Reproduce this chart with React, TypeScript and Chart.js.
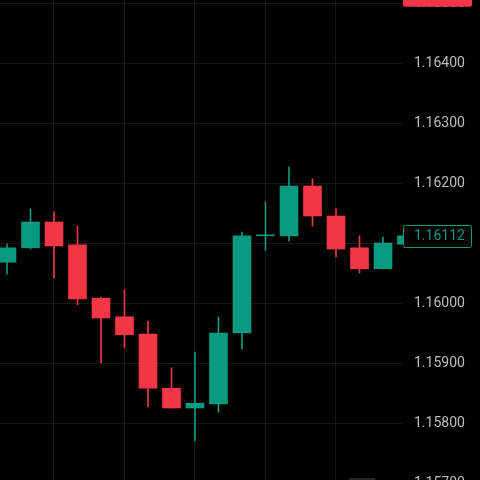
import React, { useEffect, useRef } from 'react';
import { Chart, registerables } from 'chart.js';

Chart.register(...registerables);

// OHLC values, one entry per candle (left to right)
const opens = [1.16068, 1.16092, 1.16135, 1.16097, 1.16008, 1.15977, 1.15948, 1.15858, 1.15825, 1.15832, 1.1595, 1.16112, 1.16112, 1.16195, 1.16145, 1.16092, 1.16057, 1.16098];
const highs = [1.16098, 1.16157, 1.16152, 1.16128, 1.1601, 1.16022, 1.1597, 1.15892, 1.15918, 1.15977, 1.16118, 1.16168, 1.16227, 1.16207, 1.16157, 1.16112, 1.1611, 1.16115];
const lows = [1.16048, 1.1609, 1.16042, 1.15997, 1.159, 1.15925, 1.15827, 1.15825, 1.1577, 1.15818, 1.15923, 1.16088, 1.16103, 1.16128, 1.16077, 1.1605, 1.16057, 1.16095];
const closes = [1.16092, 1.16135, 1.16095, 1.16007, 1.15975, 1.15947, 1.15858, 1.15825, 1.15833, 1.1595, 1.16112, 1.16112, 1.16195, 1.16145, 1.1609, 1.16057, 1.161, 1.16112];

const yTickValues = [1.157, 1.158, 1.159, 1.16, 1.161, 1.162, 1.163, 1.164, 1.165];
const xGridValues = [2, 5, 8, 11, 14];
const lastPrice = 1.16112;
const topMarkerPrice = 1.16512;

const GREEN = '#089981';
const RED = '#f23645';
const GRID = '#161616';

export default function App() {
  const ref = useRef<HTMLCanvasElement | null>(null);

  useEffect(() => {
    const canvas = ref.current;
    if (!canvas) return;
    const colors = opens.map((o, i) => (closes[i] >= o ? GREEN : RED));
    const xs = opens.map((_, i) => i);

    const overlay = {
      id: 'overlay',
      afterDraw(chart: any) {
        const { ctx } = chart;
        const y = chart.scales.y;
        const left = chart.chartArea.right;
        ctx.save();
        // last price label
        const py = y.getPixelForValue(lastPrice);
        ctx.fillStyle = '#000';
        ctx.beginPath();
        ctx.roundRect(left + 0.5, Math.round(py) - 10.5, 68, 22, 2);
        ctx.fill();
        ctx.strokeStyle = GREEN;
        ctx.lineWidth = 1;
        ctx.stroke();
        ctx.fillStyle = GREEN;
        ctx.font = '14px Roboto';
        ctx.textBaseline = 'middle';
        ctx.textAlign = 'left';
        ctx.fillText(lastPrice.toFixed(5), left + 11, py + 1);
        // top red marker (mostly out of view)
        const ty = y.getPixelForValue(topMarkerPrice);
        ctx.fillStyle = RED;
        ctx.beginPath();
        ctx.roundRect(left, ty - 11, 69, 22, 2);
        ctx.fill();
        ctx.fillStyle = '#fff';
        ctx.fillText(topMarkerPrice.toFixed(5), left + 11, ty + 1);
        // small grey button at bottom
        ctx.fillStyle = '#262626';
        ctx.beginPath();
        ctx.roundRect(348, 498, 28, 14, 4);
        ctx.fill();
        ctx.restore();
      },
    };

    const chart = new Chart(canvas, {
      type: 'bar',
      data: {
        datasets: [
          {
            label: 'wick',
            data: xs.map((i) => ({ x: i, y: [lows[i], highs[i]] })) as any,
            backgroundColor: colors,
            borderWidth: 0,
            barThickness: 1,
            grouped: false,
            clip: 0 as any,
            order: 2,
          },
          {
            label: 'body',
            data: xs.map((i) => ({ x: i, y: [opens[i], closes[i]] })) as any,
            backgroundColor: colors,
            borderWidth: 0,
            barThickness: 18,
            minBarLength: 1,
            grouped: false,
            clip: 0 as any,
            order: 1,
          },
        ],
      },
      options: {
        responsive: false,
        animation: false,
        events: [],
        layout: { padding: 0 },
        plugins: { legend: { display: false }, tooltip: { enabled: false } },
        scales: {
          x: {
            type: 'linear',
            min: -7 / 23.5,
            max: -7 / 23.5 + 403 / 23.5,
            offset: false,
            border: { display: false },
            grid: { color: GRID, drawTicks: false, offset: false },
            ticks: { display: false },
            afterBuildTicks: (s: any) => {
              s.ticks = xGridValues.map((v) => ({ value: v }));
            },
            afterFit: (s: any) => {
              s.height = 0;
              s.paddingLeft = 0;
              s.paddingRight = 0;
            },
          },
          y: {
            type: 'linear',
            position: 'right',
            max: 1.161 + 263 / 60000,
            min: 1.161 + 263 / 60000 - 520 / 60000,
            border: { display: false },
            grid: { color: GRID, drawTicks: false },
            ticks: {
              color: '#bdbdbd',
              padding: 11,
              font: { family: 'Roboto', size: 14 },
              callback: (v: any) => Number(v).toFixed(5),
            },
            afterBuildTicks: (s: any) => {
              s.ticks = yTickValues.map((v) => ({ value: v }));
            },
            afterFit: (s: any) => {
              s.width = 77;
              s.paddingTop = 0;
              s.paddingBottom = 0;
            },
          },
        },
      },
      plugins: [overlay],
    });
    return () => chart.destroy();
  }, []);

  return (
    <div
      style={{
        position: 'fixed',
        left: 0,
        top: 0,
        width: 480,
        height: 480,
        overflow: 'hidden',
        background: '#000',
      }}
    >
      <canvas
        ref={ref}
        width={480}
        height={520}
        style={{ position: 'absolute', left: 0, top: -20, width: 480, height: 520 }}
      />
    </div>
  );
}
